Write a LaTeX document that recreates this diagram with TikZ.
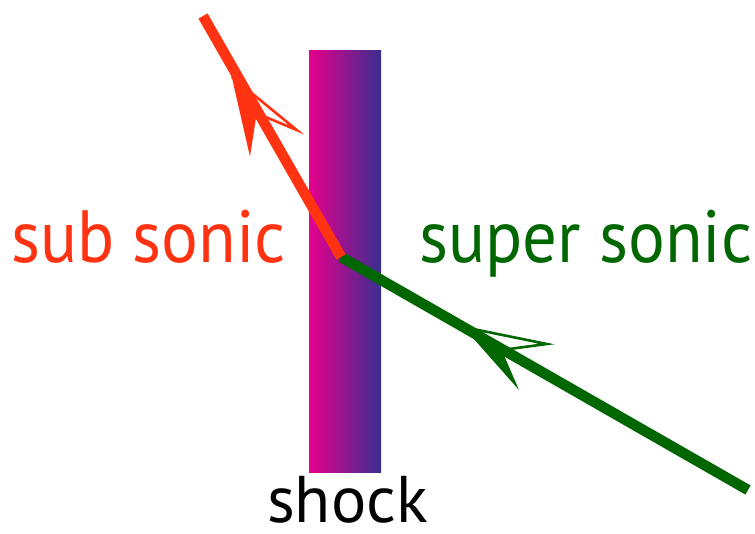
\documentclass[tikz,border=0pt]{standalone}
\usepackage{fontspec}
\setmainfont{PT Sans}
\definecolor{subred}{RGB}{255,51,17}
\definecolor{supgreen}{RGB}{0,102,0}
\definecolor{shockmag}{RGB}{230,0,140}
\definecolor{shockblue}{RGB}{58,46,144}
\newcommand{\narrowtext}[1]{\scalebox{0.93}[1]{#1}}
\begin{document}
\begin{tikzpicture}[x=1pt,y=-1pt,
  ray/.style={line width=10.5pt},
  headopen/.style={line width=2.6pt, line join=miter},
  lab/.style={inner sep=0pt, anchor=base west, font=\fontsize{74}{80}\selectfont}]
\useasboundingbox (0,0) rectangle (755,533);
% shock
\shade[left color=shockmag, right color=shockblue] (309,50) rectangle (381,472);
\coordinate (A) at (203,16);
\coordinate (M) at (341,257);
\coordinate (B) at (748,490);
% super sonic ray
\draw[ray, supgreen] (B) -- (M);
\coordinate (gt) at (463.3,327);
\coordinate (gb) at (519,390);
\coordinate (gi) at (501.7,350);
\coordinate (go) at (546.7,344);
\fill[supgreen] (gt) -- (gb) -- (gi) -- cycle;
\draw[headopen, supgreen] (gt) -- (go) -- (gi);
% sub sonic ray
\draw[ray, subred] (M) -- (A);
\coordinate (rt) at (231.7,76.7);
\coordinate (rb) at (250,156.7);
\coordinate (ri) at (256.7,113.3);
\coordinate (ro) at (296.7,130);
\fill[subred] (rt) -- (rb) -- (ri) -- cycle;
\draw[headopen, subred] (rt) -- (ro) -- (ri);
% labels
\node[lab, text=subred] (sub) at (11,262) {\narrowtext{sub sonic}};
\node[lab, text=supgreen] (sup) at (419,262) {\narrowtext{super sonic}};
\node[lab, text depth=0pt, font=\fontsize{66}{72}\selectfont] (shock) at (267,522) {shock};
\end{tikzpicture}
\end{document}
